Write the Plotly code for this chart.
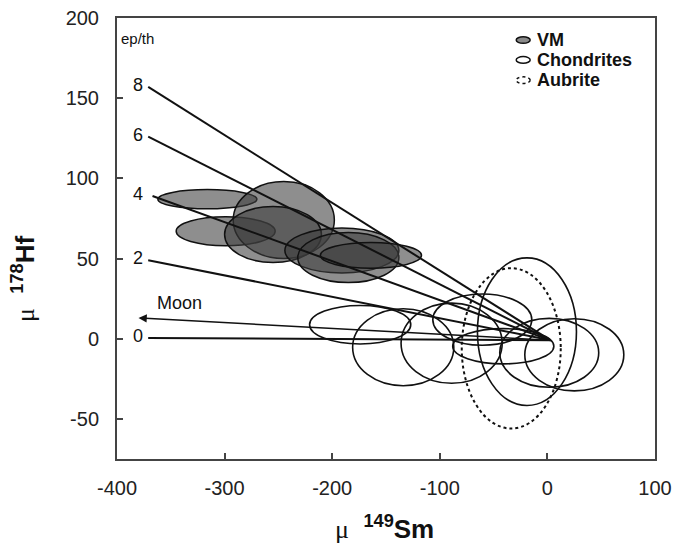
import plotly.graph_objects as go

# ---- data ----
# VM ellipses: centre x, centre y, semi-axis x, semi-axis y
vm_cx = [-316, -299, -245, -255, -191, -185, -164]
vm_cy = [87, 67, 74, 65, 55, 50.6, 52]
vm_rx = [46, 46, 47, 45, 53, 47, 47]
vm_ry = [6, 9, 24, 17.5, 14, 15.6, 8]

# Chondrite ellipses
ch_cx = [-174, -134, -89, -60.5, -41, -19, 1.7, 25]
ch_cy = [8.75, -5.3, -2.8, 11.9, -4.7, 4.4, -8.8, -10]
ch_rx = [47, 47, 47, 46, 47, 46, 46, 46]
ch_ry = [12, 24, 25, 16, 11, 46, 21.5, 22.5]

# Aubrite ellipse
au_cx = [-33.6]
au_cy = [-6]
au_rx = [46]
au_ry = [50]

# ep/th model lines
ep_th = ["0", "2", "4", "6", "8"]
line_x0 = [-371, -371, -367, -371, -371]
line_y0 = [0.5, 49, 89, 126, 157]
origin_x = 3
origin_y = -1

moon_x = -380
moon_y = 13

x_ticks = [-400, -300, -200, -100, 0, 100]
y_ticks = [-50, 0, 50, 100, 150, 200]

FONT = "Liberation Sans, Arial"

fig = go.Figure()

shapes = []
for cx, cy, rx, ry in zip(vm_cx, vm_cy, vm_rx, vm_ry):
    shapes.append(dict(type="circle", xref="x", yref="y",
                       x0=cx - rx, x1=cx + rx, y0=cy - ry, y1=cy + ry,
                       fillcolor="rgba(60,60,60,0.58)",
                       line=dict(color="#111", width=1.5), layer="below"))
for cx, cy, rx, ry in zip(ch_cx, ch_cy, ch_rx, ch_ry):
    shapes.append(dict(type="circle", xref="x", yref="y",
                       x0=cx - rx, x1=cx + rx, y0=cy - ry, y1=cy + ry,
                       line=dict(color="#111", width=1.6), layer="below"))
for cx, cy, rx, ry in zip(au_cx, au_cy, au_rx, au_ry):
    shapes.append(dict(type="circle", xref="x", yref="y",
                       x0=cx - rx, x1=cx + rx, y0=cy - ry, y1=cy + ry,
                       line=dict(color="#111", width=2, dash="dot"), layer="below"))

# model lines
for lab, x0, y0 in zip(ep_th, line_x0, line_y0):
    fig.add_trace(go.Scatter(x=[x0, origin_x], y=[y0, origin_y], mode="lines",
                             line=dict(color="#111", width=2), showlegend=False,
                             hoverinfo="skip"))

annotations = []
for lab, x0, y0 in zip(ep_th, line_x0, line_y0):
    annotations.append(dict(x=-374, y=y0 + 1.2, xref="x", yref="y", text=lab,
                            showarrow=False, xanchor="right", yanchor="middle",
                            font=dict(family=FONT, size=18, color="#111")))

# Moon arrow
annotations.append(dict(x=moon_x, y=moon_y, ax=origin_x, ay=origin_y,
                        xref="x", yref="y", axref="x", ayref="y",
                        showarrow=True, arrowhead=2, arrowsize=1.1, arrowwidth=1.5,
                        arrowcolor="#111", text=""))
annotations.append(dict(x=-341.5, y=22.5, xref="x", yref="y", text="Moon",
                        showarrow=False, yanchor="middle",
                        font=dict(family=FONT, size=18, color="#111")))
annotations.append(dict(x=-381, y=187.5, xref="x", yref="y", text="ep/th",
                        showarrow=False, xanchor="center", yanchor="middle",
                        font=dict(family=FONT, size=15, color="#111")))

# legend (manual)
leg_items = [("VM", "rgba(60,60,60,0.6)", "solid"),
             ("Chondrites", "rgba(0,0,0,0)", "solid"),
             ("Aubrite", "rgba(0,0,0,0)", "dot")]
leg_y = [0.950, 0.905, 0.859]
for (name, fc, dash), ly in zip(leg_items, leg_y):
    shapes.append(dict(type="circle", xref="paper", yref="paper",
                       x0=0.742, x1=0.768, y0=ly - 0.0075, y1=ly + 0.0075,
                       fillcolor=fc, line=dict(color="#111", width=1.5, dash=dash)))
    annotations.append(dict(x=0.777, y=ly, xref="paper", yref="paper", text="<b>" + name + "</b>",
                            showarrow=False, xanchor="left", yanchor="middle",
                            font=dict(family=FONT, size=18, color="#111")))

# axis titles
annotations.append(dict(x=0.497, y=-0.155, xref="paper", yref="paper",
                        text="<span style='font-family:Liberation Serif;font-weight:normal'>μ</span>  <sup>149</sup>Sm",
                        showarrow=False, yanchor="middle",
                        font=dict(family=FONT, size=26, color="#111", weight="bold")))
annotations.append(dict(x=-0.175, y=0.41, xref="paper", yref="paper",
                        text="<span style='font-family:Liberation Serif;font-weight:normal'>μ</span>  <sup>178</sup>Hf",
                        showarrow=False, textangle=-90, xanchor="center", yanchor="middle",
                        font=dict(family=FONT, size=26, color="#111", weight="bold")))

fig.update_layout(
    width=673, height=551,
    margin=dict(l=117, r=18, t=18, b=92),
    plot_bgcolor="white", paper_bgcolor="white",
    shapes=shapes, annotations=annotations,
    showlegend=False,
)
fig.update_xaxes(range=[-400, 100], tickvals=x_ticks, ticktext=[str(v) for v in x_ticks],
                 showgrid=False, zeroline=False, automargin=False,
                 showline=True, mirror=True, linecolor="#444", linewidth=2,
                 ticks="inside", ticklen=6, tickwidth=1.5, tickcolor="#444",
                 tickfont=dict(family=FONT, size=20, color="#222"),
                 ticklabelstandoff=10)
fig.update_yaxes(range=[-75, 200], tickvals=y_ticks, ticktext=[str(v) for v in y_ticks],
                 showgrid=False, zeroline=False, automargin=False,
                 showline=True, mirror=True, linecolor="#444", linewidth=2,
                 ticks="inside", ticklen=6, tickwidth=1.5, tickcolor="#444",
                 tickfont=dict(family=FONT, size=20, color="#222"),
                 ticklabelstandoff=12)

fig.write_html("out.html")
